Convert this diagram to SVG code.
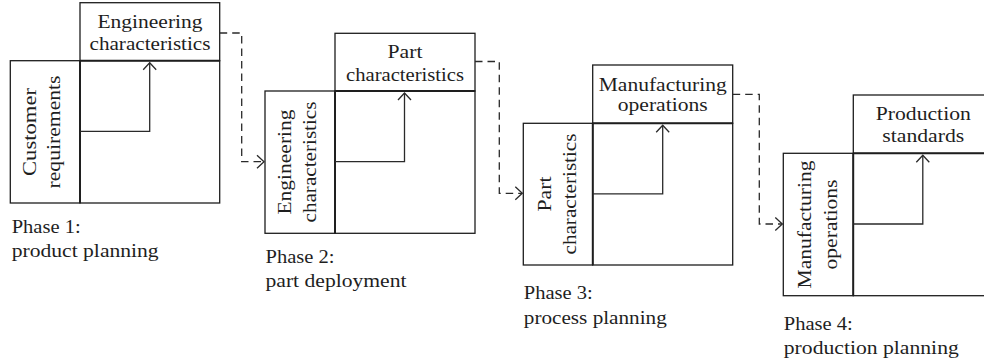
<svg xmlns="http://www.w3.org/2000/svg" width="984" height="364" viewBox="0 0 984 364">
<style>
.box{fill:none;stroke:#1e1e1e;stroke-width:1.3}
.div{fill:none;stroke:#1e1e1e;stroke-width:1.8}
.flow{fill:none;stroke:#2a2a2a;stroke-width:1.3}
.dash{fill:none;stroke:#2a2a2a;stroke-width:1.3;stroke-dasharray:7.5 5}
text{font-family:"Liberation Serif","Times New Roman",serif;font-size:18.5px;fill:#1e1e1e}
.c{text-anchor:middle}
</style>
<defs>
<marker id="arr" viewBox="-9 -9 18 18" refX="0" refY="0" markerWidth="18" markerHeight="18" markerUnits="userSpaceOnUse" orient="auto">
<path d="M-7,-6.5 L0,0 L-7,6.5" fill="none" stroke="#2a2a2a" stroke-width="1.3" stroke-dasharray="none"/>
</marker>
</defs>

<g id="phase1">
<rect class="box" x="80" y="2.7" width="139.7" height="58"/>
<rect class="box" x="10.3" y="60.7" width="69.7" height="142.3"/>
<rect class="box" x="80" y="60.7" width="139.7" height="142.3"/>
<line class="div" x1="80" y1="60.7" x2="80" y2="203"/>
<line class="div" x1="80" y1="60.7" x2="219.7" y2="60.7"/>
<text class="c" x="150" y="27.5" textLength="105" lengthAdjust="spacingAndGlyphs">Engineering</text>
<text class="c" x="150" y="50" textLength="121" lengthAdjust="spacingAndGlyphs">characteristics</text>
<text class="c" transform="translate(35.7,132) rotate(-90)" textLength="88" lengthAdjust="spacingAndGlyphs">Customer</text>
<text class="c" transform="translate(60,132) rotate(-90)" textLength="113" lengthAdjust="spacingAndGlyphs">requirements</text>
<text x="11.7" y="232.7" textLength="69" lengthAdjust="spacingAndGlyphs">Phase 1:</text>
<text x="11.7" y="257" textLength="147" lengthAdjust="spacingAndGlyphs">product planning</text>
</g>

<g id="phase2">
<rect class="box" x="335" y="33.3" width="140" height="57.7"/>
<rect class="box" x="265" y="91" width="70" height="142.3"/>
<rect class="box" x="335" y="91" width="140" height="142.3"/>
<line class="div" x1="335" y1="91" x2="335" y2="233.3"/>
<line class="div" x1="335" y1="91" x2="475" y2="91"/>
<text class="c" x="405" y="58.3" textLength="35" lengthAdjust="spacingAndGlyphs">Part</text>
<text class="c" x="405" y="80.5" textLength="118" lengthAdjust="spacingAndGlyphs">characteristics</text>
<text class="c" transform="translate(290.5,162) rotate(-90)" textLength="105" lengthAdjust="spacingAndGlyphs">Engineering</text>
<text class="c" transform="translate(316,162) rotate(-90)" textLength="121" lengthAdjust="spacingAndGlyphs">characteristics</text>
<text x="265.5" y="262.8" textLength="69" lengthAdjust="spacingAndGlyphs">Phase 2:</text>
<text x="265.5" y="287" textLength="141" lengthAdjust="spacingAndGlyphs">part deployment</text>
</g>

<g id="phase3">
<rect class="box" x="592.7" y="65" width="140" height="58.3"/>
<rect class="box" x="523.3" y="123.3" width="69.4" height="141.7"/>
<rect class="box" x="592.7" y="123.3" width="140" height="141.7"/>
<line class="div" x1="592.7" y1="123.3" x2="592.7" y2="265"/>
<line class="div" x1="592.7" y1="123.3" x2="732.7" y2="123.3"/>
<text class="c" x="662.7" y="91" textLength="128" lengthAdjust="spacingAndGlyphs">Manufacturing</text>
<text class="c" x="662.7" y="111" textLength="90" lengthAdjust="spacingAndGlyphs">operations</text>
<text class="c" transform="translate(551,194) rotate(-90)" textLength="35" lengthAdjust="spacingAndGlyphs">Part</text>
<text class="c" transform="translate(576,194) rotate(-90)" textLength="121" lengthAdjust="spacingAndGlyphs">characteristics</text>
<text x="523.8" y="299" textLength="69" lengthAdjust="spacingAndGlyphs">Phase 3:</text>
<text x="523.8" y="323.5" textLength="143" lengthAdjust="spacingAndGlyphs">process planning</text>
</g>

<g id="phase4">
<rect class="box" x="853.3" y="95" width="140" height="58.3"/>
<rect class="box" x="783.3" y="153.3" width="70" height="142.4"/>
<rect class="box" x="853.3" y="153.3" width="140" height="142.4"/>
<line class="div" x1="853.3" y1="153.3" x2="853.3" y2="295.7"/>
<line class="div" x1="853.3" y1="153.3" x2="984" y2="153.3"/>
<text class="c" x="923.3" y="120" textLength="95" lengthAdjust="spacingAndGlyphs">Production</text>
<text class="c" x="923.3" y="142.3" textLength="82" lengthAdjust="spacingAndGlyphs">standards</text>
<text class="c" transform="translate(811,224.5) rotate(-90)" textLength="128" lengthAdjust="spacingAndGlyphs">Manufacturing</text>
<text class="c" transform="translate(837,224.5) rotate(-90)" textLength="90" lengthAdjust="spacingAndGlyphs">operations</text>
<text x="783.8" y="329.5" textLength="69" lengthAdjust="spacingAndGlyphs">Phase 4:</text>
<text x="783.8" y="354" textLength="175" lengthAdjust="spacingAndGlyphs">production planning</text>
</g>

<g id="connectors">
<polyline class="flow" points="80,131.3 149.7,131.3 149.7,62.7" marker-end="url(#arr)"/>
<polyline class="flow" points="335,161.7 404.5,161.7 404.5,93" marker-end="url(#arr)"/>
<polyline class="flow" points="592.7,193.8 662.7,193.8 662.7,125.3" marker-end="url(#arr)"/>
<polyline class="flow" points="853.3,224 922.8,224 922.8,155.3" marker-end="url(#arr)"/>
<polyline class="dash" points="219.7,33 241.7,33 241.7,161.7 264,161.7" marker-end="url(#arr)"/>
<polyline class="dash" points="475,61.5 499.3,61.5 499.3,193.3 522.3,193.3" marker-end="url(#arr)"/>
<polyline class="dash" points="732.7,94.3 759.3,94.3 759.3,224 782.3,224" marker-end="url(#arr)"/>
</g>
</svg>
